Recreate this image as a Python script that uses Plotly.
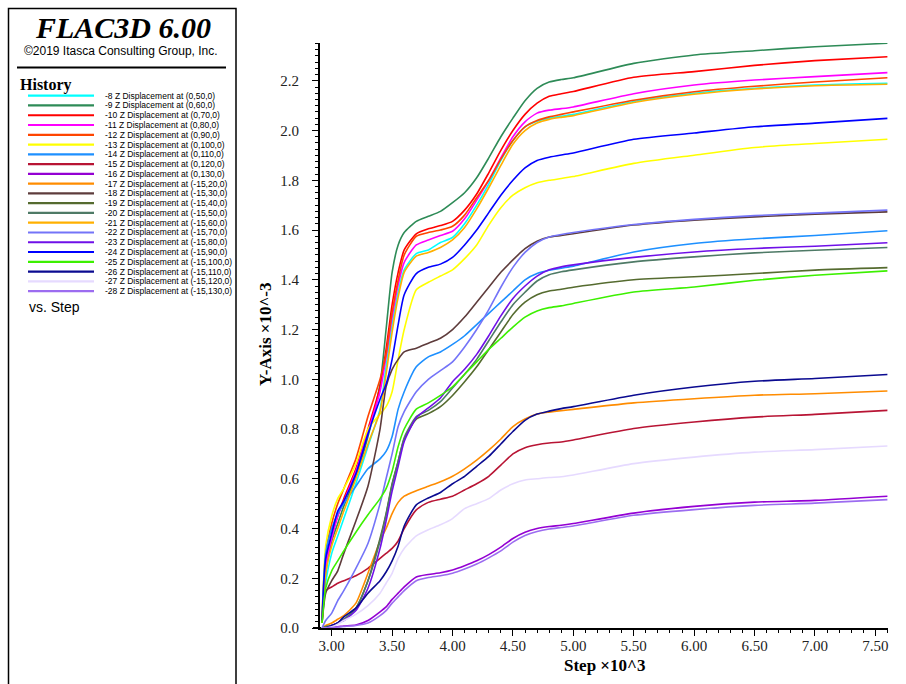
import plotly.graph_objects as go

# Step (x10^3) at which every history was sampled
STEP = [2.92, 2.95, 3.00, 3.05, 3.10, 3.20, 3.30, 3.40, 3.45, 3.50, 3.55, 3.60,
        3.70, 3.80, 3.90, 4.00, 4.10, 4.20, 4.30, 4.40, 4.50, 4.60, 4.70, 4.80,
        4.90, 5.00, 5.50, 6.00, 6.50, 7.00, 7.60]

# Z displacement histories (x10^-3)
H08 = [0.02, 0.18, 0.30, 0.37, 0.44, 0.58, 0.73, 0.88, 1.05, 1.22, 1.35, 1.44, 1.505, 1.52, 1.55, 1.57, 1.625, 1.70, 1.785, 1.88, 1.96, 2.015, 2.037, 2.05, 2.057, 2.065, 2.117, 2.15, 2.17, 2.183, 2.190]
H09 = [0.02, 0.22, 0.35, 0.42, 0.49, 0.61, 0.77, 0.98, 1.20, 1.43, 1.54, 1.59, 1.635, 1.655, 1.675, 1.71, 1.75, 1.81, 1.89, 1.975, 2.05, 2.12, 2.17, 2.195, 2.205, 2.212, 2.27, 2.304, 2.321, 2.337, 2.351]
H10 = [0.03, 0.26, 0.37, 0.45, 0.52, 0.64, 0.80, 0.97, 1.12, 1.30, 1.43, 1.52, 1.585, 1.605, 1.618, 1.635, 1.68, 1.745, 1.83, 1.92, 2.00, 2.065, 2.11, 2.138, 2.148, 2.157, 2.214, 2.237, 2.262, 2.281, 2.297]
H11 = [0.03, 0.25, 0.36, 0.45, 0.51, 0.63, 0.79, 0.95, 1.09, 1.25, 1.38, 1.47, 1.54, 1.56, 1.578, 1.595, 1.645, 1.72, 1.80, 1.89, 1.975, 2.035, 2.07, 2.082, 2.088, 2.095, 2.148, 2.183, 2.203, 2.217, 2.233]
H12 = [0.05, 0.30, 0.42, 0.50, 0.56, 0.68, 0.85, 1.00, 1.10, 1.27, 1.40, 1.50, 1.575, 1.59, 1.60, 1.615, 1.66, 1.73, 1.80, 1.885, 1.96, 2.015, 2.04, 2.055, 2.065, 2.075, 2.122, 2.156, 2.178, 2.195, 2.212]
H13 = [0.04, 0.33, 0.45, 0.52, 0.56, 0.66, 0.80, 0.86, 0.89, 0.95, 1.08, 1.20, 1.36, 1.39, 1.415, 1.44, 1.485, 1.54, 1.62, 1.69, 1.74, 1.77, 1.79, 1.80, 1.807, 1.815, 1.868, 1.901, 1.932, 1.948, 1.965]
H14 = [0.02, 0.30, 0.40, 0.46, 0.50, 0.57, 0.64, 0.68, 0.71, 0.77, 0.88, 0.95, 1.05, 1.09, 1.11, 1.14, 1.175, 1.22, 1.265, 1.31, 1.355, 1.40, 1.425, 1.438, 1.447, 1.455, 1.512, 1.546, 1.565, 1.578, 1.597]
H15 = [0.03, 0.15, 0.165, 0.18, 0.19, 0.21, 0.24, 0.28, 0.30, 0.32, 0.35, 0.40, 0.475, 0.505, 0.518, 0.53, 0.555, 0.58, 0.61, 0.655, 0.70, 0.725, 0.737, 0.744, 0.748, 0.756, 0.802, 0.828, 0.848, 0.859, 0.875]
H16 = [0.0, 0.0, 0.003, 0.005, 0.008, 0.012, 0.03, 0.065, 0.085, 0.115, 0.14, 0.165, 0.205, 0.215, 0.222, 0.233, 0.25, 0.27, 0.295, 0.325, 0.36, 0.385, 0.40, 0.408, 0.413, 0.42, 0.462, 0.489, 0.506, 0.513, 0.530]
H17 = [0.0, 0.01, 0.02, 0.035, 0.05, 0.10, 0.22, 0.35, 0.40, 0.46, 0.505, 0.53, 0.552, 0.57, 0.588, 0.61, 0.64, 0.675, 0.715, 0.76, 0.81, 0.84, 0.86, 0.868, 0.874, 0.879, 0.905, 0.922, 0.936, 0.942, 0.953]
H18 = [0.02, 0.14, 0.19, 0.23, 0.30, 0.43, 0.57, 0.80, 0.97, 1.04, 1.08, 1.11, 1.125, 1.145, 1.165, 1.20, 1.25, 1.31, 1.37, 1.43, 1.48, 1.525, 1.555, 1.572, 1.578, 1.585, 1.62, 1.64, 1.653, 1.664, 1.673]
H19 = [0.0, 0.005, 0.01, 0.02, 0.035, 0.08, 0.19, 0.36, 0.46, 0.58, 0.67, 0.76, 0.84, 0.862, 0.89, 0.935, 0.99, 1.05, 1.12, 1.19, 1.26, 1.31, 1.34, 1.355, 1.362, 1.37, 1.40, 1.412, 1.425, 1.439, 1.449]
H20 = [0.0, 0.005, 0.01, 0.02, 0.035, 0.08, 0.19, 0.35, 0.455, 0.575, 0.67, 0.765, 0.85, 0.875, 0.91, 0.965, 1.02, 1.08, 1.155, 1.23, 1.30, 1.35, 1.395, 1.42, 1.432, 1.44, 1.472, 1.492, 1.508, 1.519, 1.530]
H21 = [0.02, 0.22, 0.33, 0.40, 0.47, 0.60, 0.74, 0.87, 1.02, 1.19, 1.33, 1.43, 1.495, 1.51, 1.53, 1.56, 1.61, 1.685, 1.77, 1.86, 1.945, 2.0, 2.03, 2.045, 2.053, 2.06, 2.113, 2.146, 2.167, 2.180, 2.186]
H22 = [0.0, 0.03, 0.06, 0.11, 0.15, 0.24, 0.34, 0.50, 0.60, 0.70, 0.81, 0.87, 0.95, 1.00, 1.035, 1.07, 1.13, 1.20, 1.28, 1.37, 1.45, 1.51, 1.55, 1.572, 1.582, 1.59, 1.622, 1.643, 1.658, 1.668, 1.680]
H23 = [0.0, 0.0, 0.01, 0.02, 0.03, 0.07, 0.16, 0.32, 0.43, 0.55, 0.65, 0.75, 0.845, 0.885, 0.925, 0.99, 1.04, 1.10, 1.175, 1.255, 1.325, 1.375, 1.415, 1.44, 1.452, 1.46, 1.49, 1.512, 1.526, 1.535, 1.549]
H24 = [0.03, 0.28, 0.38, 0.47, 0.51, 0.62, 0.78, 0.92, 0.98, 1.08, 1.22, 1.34, 1.425, 1.45, 1.463, 1.49, 1.54, 1.60, 1.67, 1.74, 1.80, 1.85, 1.88, 1.893, 1.902, 1.91, 1.965, 1.99, 2.015, 2.03, 2.049]
H25 = [0.02, 0.16, 0.23, 0.27, 0.31, 0.385, 0.455, 0.52, 0.56, 0.63, 0.73, 0.80, 0.88, 0.905, 0.935, 0.97, 1.02, 1.07, 1.12, 1.165, 1.21, 1.25, 1.275, 1.288, 1.295, 1.305, 1.351, 1.371, 1.398, 1.418, 1.436]
H26 = [0.0, 0.0, 0.01, 0.02, 0.045, 0.08, 0.14, 0.19, 0.225, 0.27, 0.33, 0.41, 0.495, 0.523, 0.545, 0.58, 0.61, 0.65, 0.69, 0.74, 0.79, 0.835, 0.86, 0.872, 0.882, 0.89, 0.936, 0.969, 0.992, 1.003, 1.019]
H27 = [0.0, 0.0, 0.005, 0.015, 0.03, 0.055, 0.09, 0.14, 0.18, 0.22, 0.28, 0.32, 0.37, 0.395, 0.415, 0.44, 0.48, 0.50, 0.52, 0.555, 0.58, 0.595, 0.60, 0.605, 0.608, 0.615, 0.661, 0.687, 0.707, 0.717, 0.732]
H28 = [0.0, 0.0, 0.002, 0.004, 0.006, 0.01, 0.02, 0.05, 0.07, 0.10, 0.125, 0.15, 0.19, 0.203, 0.21, 0.22, 0.237, 0.257, 0.282, 0.31, 0.345, 0.372, 0.388, 0.398, 0.404, 0.41, 0.453, 0.476, 0.493, 0.502, 0.516]

HISTORIES = [H08, H09, H10, H11, H12, H13, H14, H15, H16, H17, H18,
             H19, H20, H21, H22, H23, H24, H25, H26, H27, H28]

NAMES = [
    "-8 Z Displacement at (0,50,0)",
    "-9 Z Displacement at (0,60,0)",
    "-10 Z Displacement at (0,70,0)",
    "-11 Z Displacement at (0,80,0)",
    "-12 Z Displacement at (0,90,0)",
    "-13 Z Displacement at (0,100,0)",
    "-14 Z Displacement at (0,110,0)",
    "-15 Z Displacement at (0,120,0)",
    "-16 Z Displacement at (0,130,0)",
    "-17 Z Displacement at (-15,20,0)",
    "-18 Z Displacement at (-15,30,0)",
    "-19 Z Displacement at (-15,40,0)",
    "-20 Z Displacement at (-15,50,0)",
    "-21 Z Displacement at (-15,60,0)",
    "-22 Z Displacement at (-15,70,0)",
    "-23 Z Displacement at (-15,80,0)",
    "-24 Z Displacement at (-15,90,0)",
    "-25 Z Displacement at (-15,100,0)",
    "-26 Z Displacement at (-15,110,0)",
    "-27 Z Displacement at (-15,120,0)",
    "-28 Z Displacement at (-15,130,0)",
]

COLORS = ["#00FFFF", "#2E8B57", "#FF0000", "#FF00FF", "#FF4500", "#FFFF00",
          "#1E90FF", "#B81434", "#9400D3", "#FF8C00", "#5E3C3C", "#556B2F",
          "#4E7A66", "#FFB000", "#7474F8", "#6F10E8", "#0000FF", "#3CF000",
          "#0A0A90", "#E6DAFF", "#9C6CF0"]

X_TICKS = [3.0, 3.5, 4.0, 4.5, 5.0, 5.5, 6.0, 6.5, 7.0, 7.5]
Y_TICKS = [0.0, 0.2, 0.4, 0.6, 0.8, 1.0, 1.2, 1.4, 1.6, 1.8, 2.0, 2.2]

W, H = 906, 684
L, R, T, B = 320, 18, 43, 56
PW, PH = W - L - R, H - T - B


def px(xp):
    return (xp - L) / PW


def py(yp):
    return (H - B - yp) / PH


fig = go.Figure()
for name, color, vals in zip(NAMES, COLORS, HISTORIES):
    fig.add_trace(go.Scatter(x=STEP, y=vals, mode="lines", name=name,
                             line=dict(color=color, width=1.6, shape="spline",
                                       smoothing=0.6),
                             showlegend=False))

serif = "Liberation Serif"
sans = "Liberation Sans"

shapes = []
annotations = []

# side panel frame and separator
shapes.append(dict(type="rect", xref="paper", yref="paper",
                   x0=px(8.5), x1=px(236), y0=py(8.5), y1=py(700),
                   line=dict(color="black", width=1.5), fillcolor="rgba(0,0,0,0)"))
shapes.append(dict(type="line", xref="paper", yref="paper",
                   x0=px(17), x1=px(226), y0=py(67.5), y1=py(67.5),
                   line=dict(color="black", width=2)))
# x axis line runs a little past the y axis
shapes.append(dict(type="line", xref="paper", yref="paper",
                   x0=px(313), x1=px(321), y0=py(628), y1=py(628),
                   line=dict(color="black", width=2)))

annotations.append(dict(text="<b><i>FLAC3D 6.00</i></b>", xref="paper", yref="paper",
                        x=px(123), y=py(27), xanchor="center", yanchor="middle",
                        showarrow=False, font=dict(family=serif, size=30, color="black")))
annotations.append(dict(text="\u00a92019 Itasca Consulting Group, Inc.", xref="paper", yref="paper",
                        x=px(121), y=py(51), xanchor="center", yanchor="middle",
                        showarrow=False, font=dict(family=sans, size=12, color="black")))
annotations.append(dict(text="<b>History</b>", xref="paper", yref="paper",
                        x=px(18), y=py(85), xanchor="left", yanchor="middle",
                        showarrow=False, font=dict(family=serif, size=16, color="black")))

row0, drow = 95.7, 9.77
for i, (name, color) in enumerate(zip(NAMES, COLORS)):
    yr = row0 + i * drow
    shapes.append(dict(type="line", xref="paper", yref="paper",
                       x0=px(28), x1=px(94), y0=py(yr), y1=py(yr),
                       line=dict(color=color, width=2.2)))
    annotations.append(dict(text=name, xref="paper", yref="paper",
                            x=px(103), y=py(yr), xanchor="left", yanchor="middle",
                            showarrow=False, font=dict(family=sans, size=8.5, color="black")))

annotations.append(dict(text="vs. Step", xref="paper", yref="paper",
                        x=px(27), y=py(307), xanchor="left", yanchor="middle",
                        showarrow=False, font=dict(family=sans, size=14, color="black")))

# axis titles
annotations.append(dict(text="<b>Step \u00d710^3</b>", xref="paper", yref="paper",
                        x=px(604), y=py(665), xanchor="center", yanchor="middle",
                        showarrow=False, font=dict(family=serif, size=17, color="black")))
annotations.append(dict(text="<b>Y-Axis \u00d710^-3</b>", xref="paper", yref="paper",
                        x=px(265), y=py(335), xanchor="center", yanchor="middle",
                        textangle=-90, showarrow=False,
                        font=dict(family=serif, size=17, color="black")))

fig.update_layout(
    width=W, height=H,
    margin=dict(l=L, r=R, t=T, b=B, pad=0),
    paper_bgcolor="white", plot_bgcolor="white",
    shapes=shapes, annotations=annotations,
    xaxis=dict(range=[2.903, 7.605], tickvals=X_TICKS,
               ticktext=[f"{v:.2f}" for v in X_TICKS],
               ticks="outside", ticklen=6, tickwidth=1, tickcolor="black",
               showline=True, linecolor="black", linewidth=2,
               showgrid=False, zeroline=False,
               minor=dict(ticks="outside", ticklen=3, tickwidth=1, tickcolor="black",
                          tick0=3.0, dtick=0.1, showgrid=False),
               tickfont=dict(family=serif, size=15, color="#222"),
               ticklabelstandoff=-3),
    yaxis=dict(range=[0, 2.352], tickvals=Y_TICKS,
               ticktext=[f"{v:.1f}" for v in Y_TICKS],
               ticks="outside", ticklen=6, tickwidth=1, tickcolor="black",
               showline=True, linecolor="black", linewidth=2,
               showgrid=False, zeroline=False,
               minor=dict(ticks="outside", ticklen=3, tickwidth=1, tickcolor="black",
                          tick0=0.0, dtick=0.025, showgrid=False),
               tickfont=dict(family=serif, size=15, color="#222"),
               ticklabelstandoff=10),
)

fig.write_html("out.html")
